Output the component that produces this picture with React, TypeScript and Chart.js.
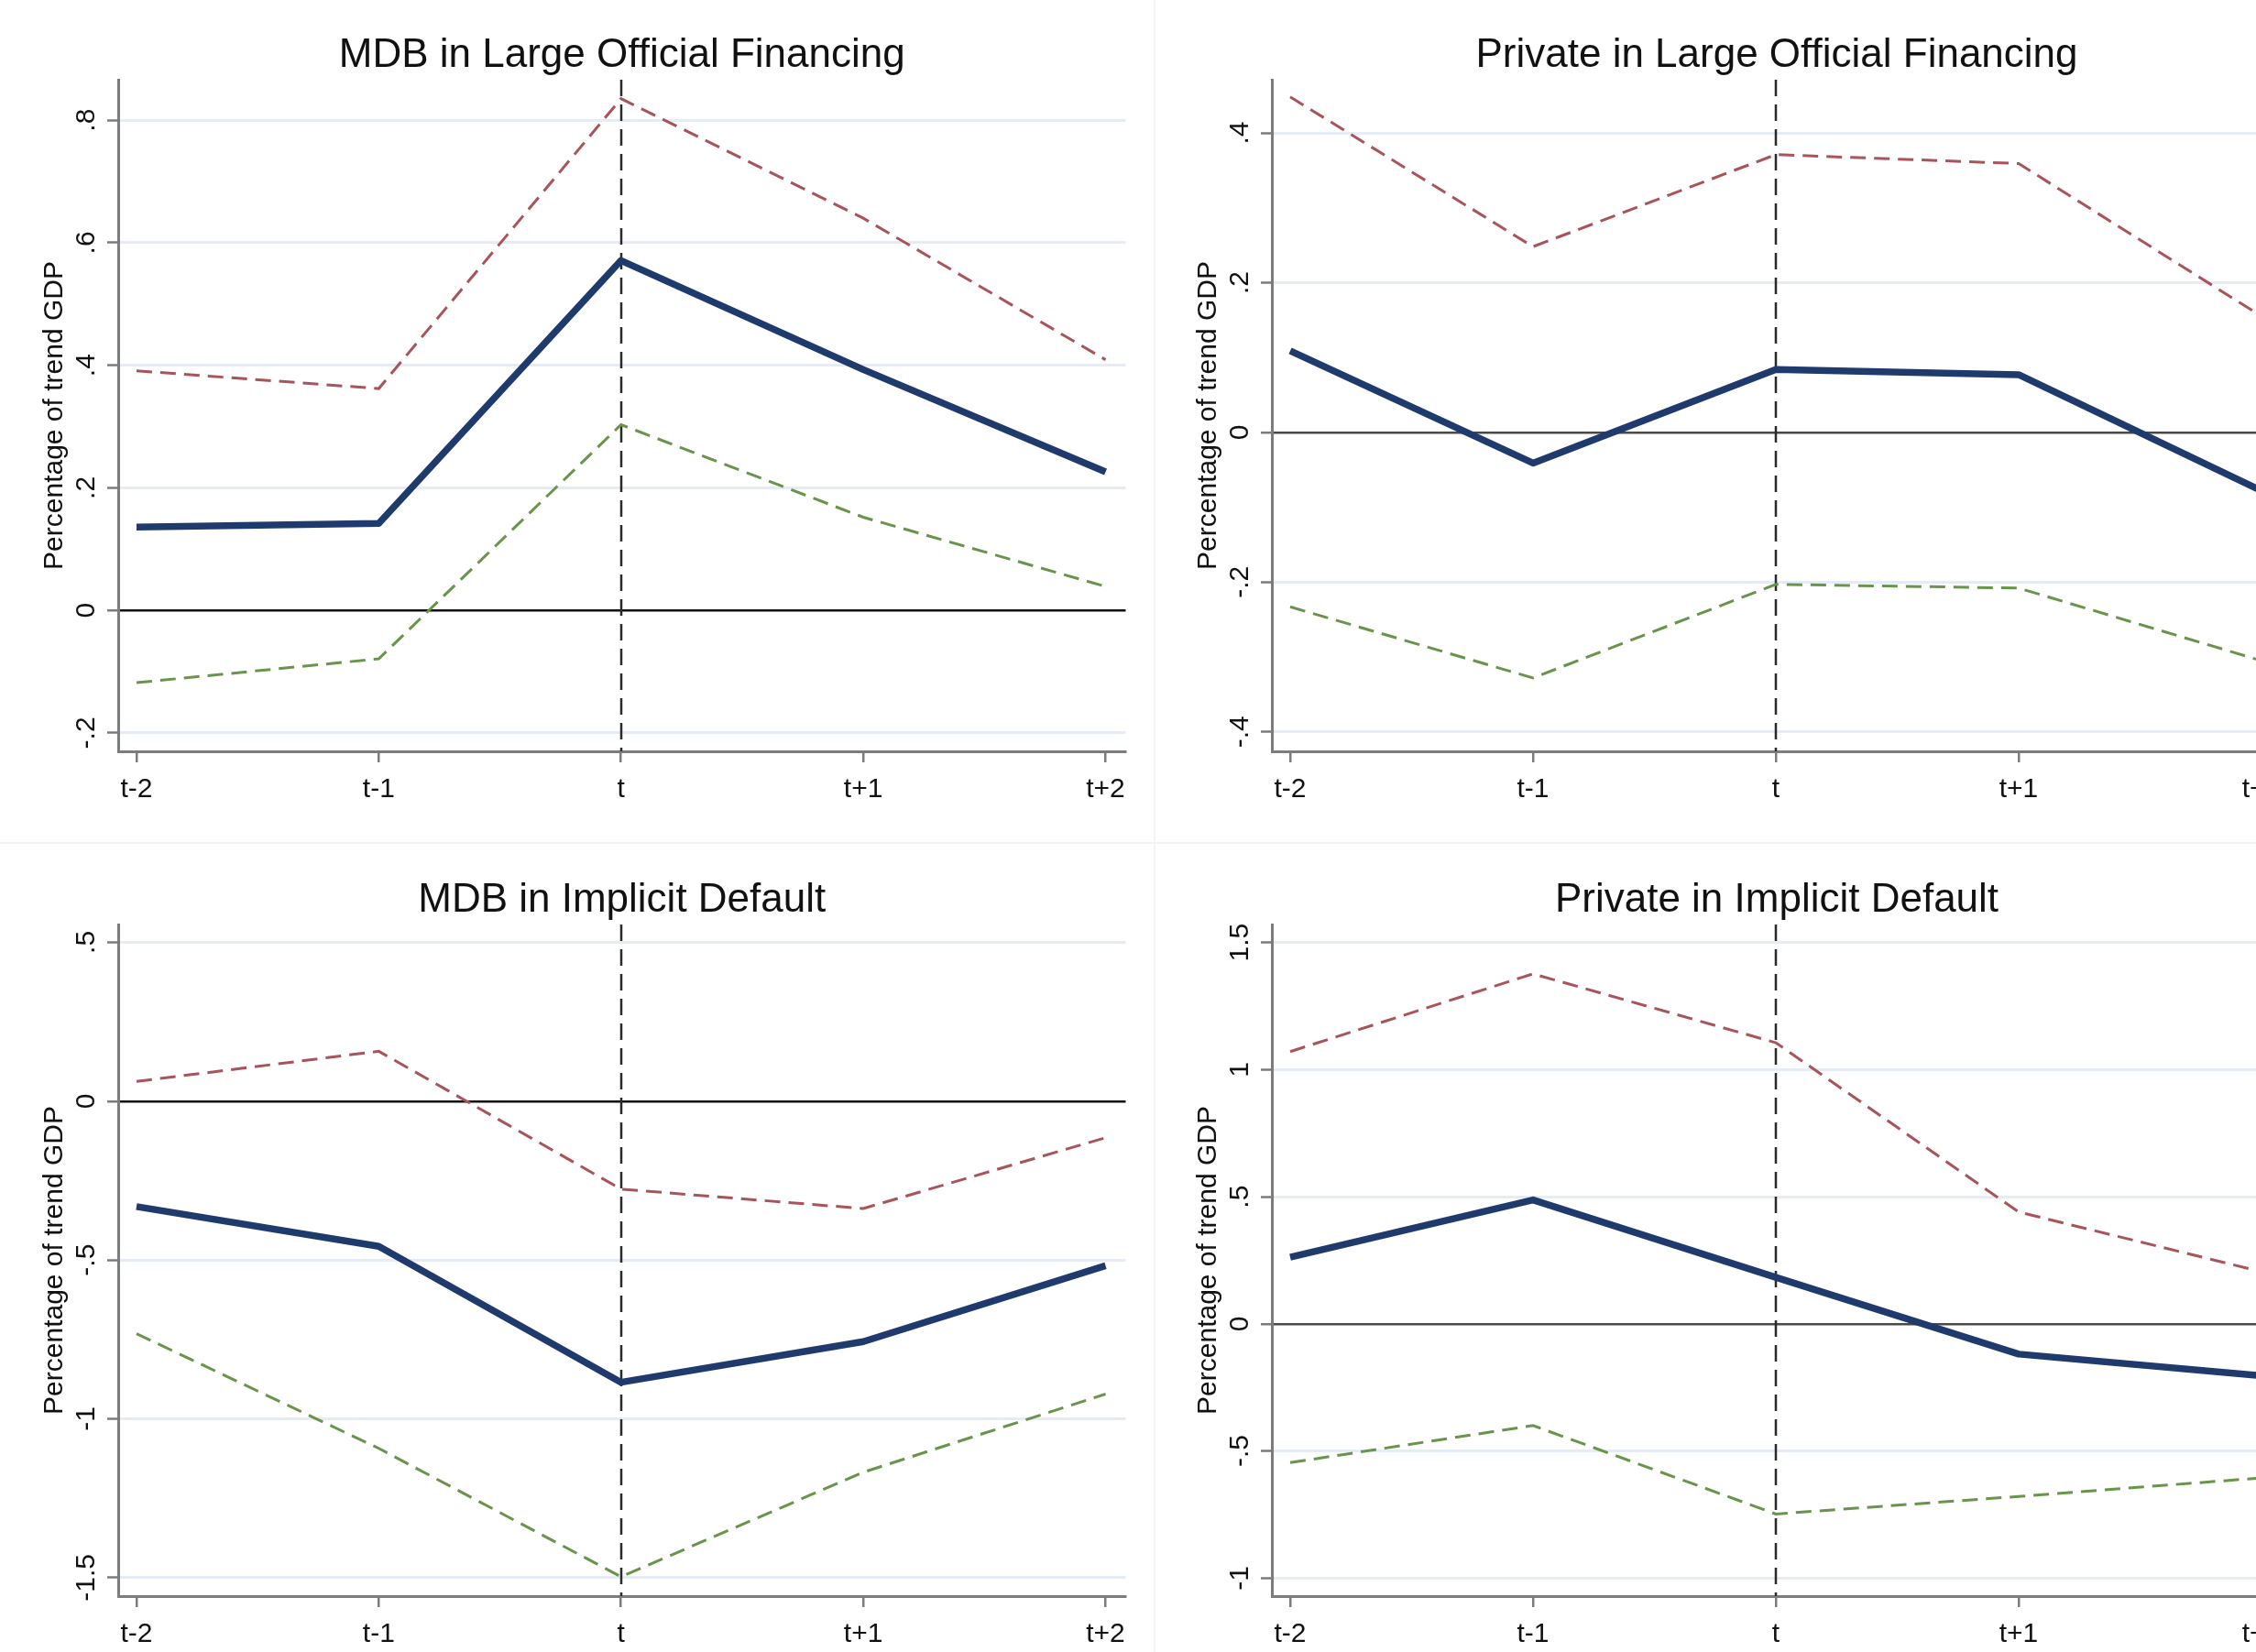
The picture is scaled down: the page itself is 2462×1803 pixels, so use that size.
import React, { useEffect, useRef } from 'react';
import { Chart, registerables } from 'chart.js';

Chart.register(...registerables);

// ---------- data ----------
const periods = [-2, -1, 0, 1, 2];
const periodLabels = ['t-2', 't-1', 't', 't+1', 't+2'];
const eventPeriod = 0;
const yAxisTitle = 'Percentage of trend GDP';

// Panel A: MDB in Large Official Financing
const titleA = 'MDB in Large Official Financing';
const estA = [0.136, 0.142, 0.571, 0.393, 0.226];
const upperA = [0.391, 0.362, 0.835, 0.64, 0.409];
const lowerA = [-0.118, -0.079, 0.303, 0.152, 0.039];
const yTicksA = [-0.2, 0, 0.2, 0.4, 0.6, 0.8];
const yLabelsA = ['-.2', '0', '.2', '.4', '.6', '.8'];

// Panel B: Private in Large Official Financing
const titleB = 'Private in Large Official Financing';
const estB = [0.109, -0.041, 0.084, 0.077, -0.078];
const upperB = [0.448, 0.248, 0.371, 0.359, 0.155];
const lowerB = [-0.233, -0.328, -0.203, -0.208, -0.305];
const yTicksB = [-0.4, -0.2, 0, 0.2, 0.4];
const yLabelsB = ['-.4', '-.2', '0', '.2', '.4'];

// Panel C: MDB in Implicit Default
const titleC = 'MDB in Implicit Default';
const estC = [-0.332, -0.457, -0.885, -0.757, -0.518];
const upperC = [0.062, 0.157, -0.277, -0.338, -0.115];
const lowerC = [-0.732, -1.093, -1.497, -1.168, -0.922];
const yTicksC = [-1.5, -1, -0.5, 0, 0.5];
const yLabelsC = ['-1.5', '-1', '-.5', '0', '.5'];

// Panel D: Private in Implicit Default
const titleD = 'Private in Implicit Default';
const estD = [0.2625, 0.4875, 0.183, -0.119, -0.204];
const upperD = [1.071, 1.377, 1.106, 0.44, 0.205];
const lowerD = [-0.546, -0.4, -0.748, -0.679, -0.606];
const yTicksD = [-1, -0.5, 0, 0.5, 1, 1.5];
const yLabelsD = ['-1', '-.5', '0', '.5', '1', '1.5'];

// ---------- styles ----------
const FONT = "'Liberation Sans', Arial, 'DejaVu Sans', sans-serif";
const navy = '#1f3a6c';
const maroon = '#a8545a';
const green = '#68944c';
const axisColor = '#7c7c7c';
const gridColor = '#e6ecf5';
const textColor = '#111111';

Chart.defaults.font.family = FONT;

type Panel = {
  key: string;
  title: string;
  est: number[];
  upper: number[];
  lower: number[];
  yTicks: number[];
  yLabels: string[];
  yMin: number;
  yMax: number;
  left: number;
  top: number;
  w: number;
  h: number;
  plotL: number;
  plotT: number;
  plotR: number;
  plotB: number;
  titleBase: number;
  zero: string;
};

const panels: Panel[] = [
  {
    key: 'A', title: titleA, est: estA, upper: upperA, lower: lowerA, yTicks: yTicksA, yLabels: yLabelsA,
    yMin: -0.23, yMax: 0.866,
    left: 0, top: 0, w: 1240, h: 900, plotL: 129, plotT: 87, plotR: 1230, plotB: 820, titleBase: 73, zero: '#111111',
  },
  {
    key: 'B', title: titleB, est: estB, upper: upperB, lower: lowerB, yTicks: yTicksB, yLabels: yLabelsB,
    yMin: -0.426, yMax: 0.471,
    left: 1240, top: 0, w: 1262, h: 900, plotL: 148, plotT: 87, plotR: 1250, plotB: 820, titleBase: 73, zero: '#4a4a4a',
  },
  {
    key: 'C', title: titleC, est: estC, upper: upperC, lower: lowerC, yTicks: yTicksC, yLabels: yLabelsC,
    yMin: -1.558, yMax: 0.556,
    left: 0, top: 900, w: 1240, h: 903, plotL: 129, plotT: 109, plotR: 1230, plotB: 842, titleBase: 95, zero: '#111111',
  },
  {
    key: 'D', title: titleD, est: estD, upper: upperD, lower: lowerD, yTicks: yTicksD, yLabels: yLabelsD,
    yMin: -1.071, yMax: 1.571,
    left: 1240, top: 900, w: 1262, h: 903, plotL: 148, plotT: 109, plotR: 1250, plotB: 842, titleBase: 95, zero: '#4a4a4a',
  },
];

const xMin = -2.0755;
const xMax = 2.083;

function pts(vals: number[]) {
  return vals.map((v, i) => ({ x: periods[i], y: v }));
}

function PanelChart({ p }: { p: Panel }) {
  const ref = useRef<HTMLCanvasElement | null>(null);

  useEffect(() => {
    const canvas = ref.current;
    if (!canvas) return;

    const deco = {
      id: 'deco' + p.key,
      beforeDatasetsDraw(chart: any) {
        const { ctx, chartArea, scales } = chart;
        const x = Math.round(scales.x.getPixelForValue(eventPeriod));
        ctx.save();
        ctx.strokeStyle = '#2a2a2a';
        ctx.lineWidth = 2.5;
        ctx.setLineDash([18, 9]);
        ctx.beginPath();
        ctx.moveTo(x, chartArea.top);
        ctx.lineTo(x, chartArea.bottom);
        ctx.stroke();
        ctx.restore();
      },
      afterDraw(chart: any) {
        const { ctx, chartArea, scales } = chart;
        ctx.save();
        // title
        ctx.fillStyle = textColor;
        ctx.font = `44px ${FONT}`;
        ctx.textAlign = 'center';
        ctx.textBaseline = 'alphabetic';
        ctx.fillText(p.title, (chartArea.left + chartArea.right) / 2, p.titleBase);
        // rotated y tick labels
        ctx.font = `30px ${FONT}`;
        ctx.textBaseline = 'middle';
        const ys = scales.y;
        ys.ticks.forEach((t: any) => {
          const idx = p.yTicks.indexOf(t.value);
          if (idx < 0) return;
          const y = ys.getPixelForValue(t.value);
          ctx.save();
          ctx.translate(chartArea.left - 34, y);
          ctx.rotate(-Math.PI / 2);
          ctx.fillText(p.yLabels[idx], 0, 0);
          ctx.restore();
        });
        ctx.restore();
      },
    };

    const chart = new Chart(canvas, {
      type: 'line',
      data: {
        datasets: [
          {
            label: 'Estimate',
            data: pts(p.est),
            borderColor: navy,
            borderWidth: 7.5,
            pointRadius: 0,
            tension: 0,
            borderJoinStyle: 'round',
          },
          {
            label: 'Upper bound',
            data: pts(p.upper),
            borderColor: maroon,
            borderWidth: 3,
            borderDash: [17, 9],
            pointRadius: 0,
            tension: 0,
          },
          {
            label: 'Lower bound',
            data: pts(p.lower),
            borderColor: green,
            borderWidth: 3,
            borderDash: [17, 9],
            pointRadius: 0,
            tension: 0,
          },
        ],
      },
      options: {
        animation: false,
        responsive: false,
        devicePixelRatio: 1,
        events: [],
        layout: {
          padding: { top: p.plotT, right: p.w - p.plotR, bottom: 0, left: 0 },
        },
        plugins: {
          legend: { display: false },
          tooltip: { enabled: false },
          title: { display: false },
        },
        scales: {
          x: {
            type: 'linear',
            min: xMin,
            max: xMax,
            afterBuildTicks: (s: any) => {
              s.ticks = periods.map((v) => ({ value: v }));
            },
            afterFit: (s: any) => {
              s.height = p.h - p.plotB;
            },
            grid: {
              drawOnChartArea: false,
              drawTicks: true,
              tickLength: 12,
              tickColor: axisColor,
              tickWidth: 2.5,
              color: axisColor,
              lineWidth: 2.5,
            },
            border: { display: true, color: axisColor, width: 3 },
            ticks: {
              autoSkip: false,
              maxRotation: 0,
              minRotation: 0,
              padding: 12,
              color: textColor,
              font: { size: 30, family: FONT },
              callback: (v: any) => {
                const i = periods.indexOf(Number(v));
                return i >= 0 ? periodLabels[i] : '';
              },
            },
          },
          y: {
            type: 'linear',
            min: p.yMin,
            max: p.yMax,
            afterBuildTicks: (s: any) => {
              s.ticks = p.yTicks.map((v) => ({ value: v }));
            },
            afterFit: (s: any) => {
              s.width = p.plotL;
            },
            grid: {
              drawOnChartArea: true,
              drawTicks: true,
              tickLength: 12,
              tickColor: axisColor,
              tickWidth: 2.5,
              color: (c: any) => (c.tick && c.tick.value === 0 ? p.zero : gridColor),
              lineWidth: (c: any) => (c.tick && c.tick.value === 0 ? 2.5 : 3),
            },
            border: { display: true, color: axisColor, width: 3 },
            ticks: { display: false },
            title: {
              display: true,
              text: yAxisTitle,
              color: textColor,
              font: { size: 30, family: FONT },
              padding: { top: p.plotL - 69 - 18, bottom: 0 },
            },
          },
        },
      },
      plugins: [deco],
    } as any);

    return () => chart.destroy();
  }, [p]);

  return (
    <canvas
      ref={ref}
      width={p.w}
      height={p.h}
      style={{ position: 'absolute', left: p.left, top: p.top, width: p.w, height: p.h }}
    />
  );
}

export default function App() {
  return (
    <div
      style={{
        position: 'fixed',
        left: 0,
        top: 0,
        width: 2462,
        height: 1803,
        overflow: 'hidden',
        background: '#ffffff',
      }}
    >
      <div style={{ position: 'absolute', left: 0, top: 919, width: 2462, height: 2, background: '#f3f3f3' }} />
      <div style={{ position: 'absolute', left: 1259, top: 0, width: 2, height: 1803, background: '#f5f5f5' }} />
      {panels.map((p) => (
        <PanelChart key={p.key} p={p} />
      ))}
    </div>
  );
}
